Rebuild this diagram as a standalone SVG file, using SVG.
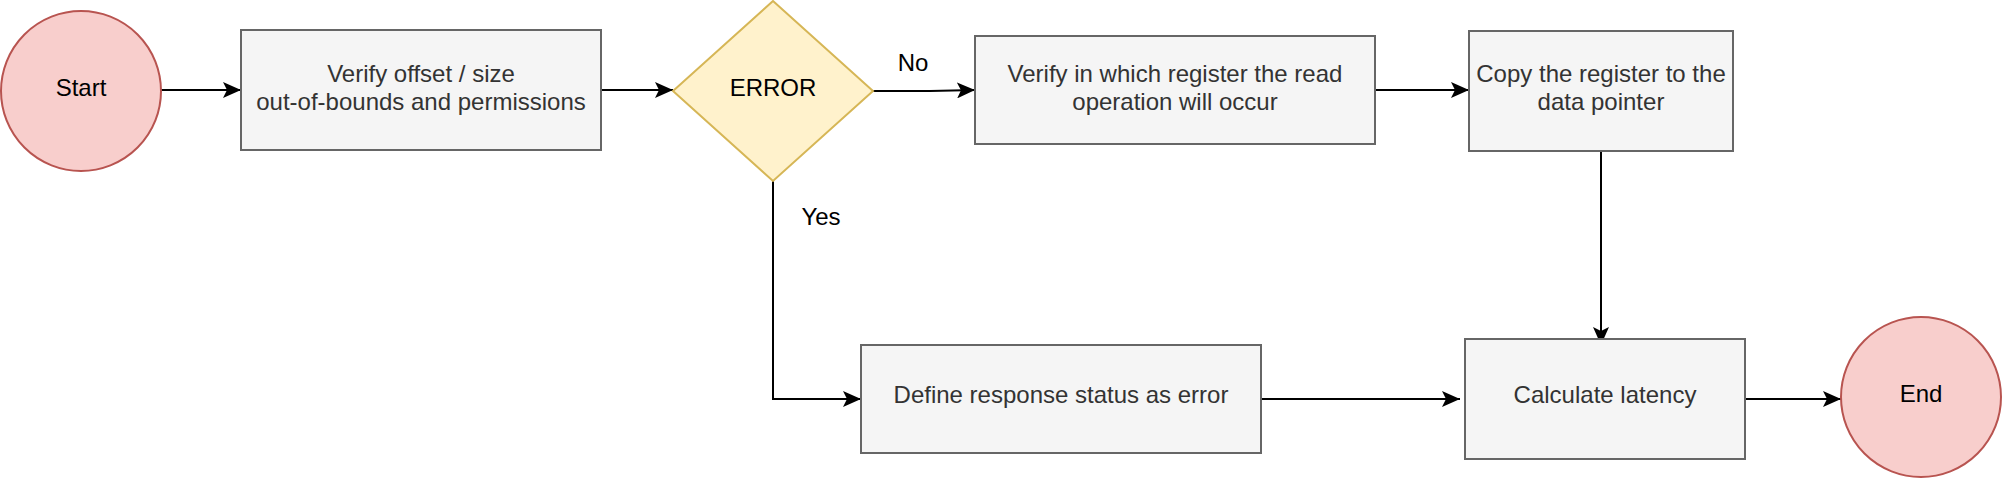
<svg xmlns="http://www.w3.org/2000/svg" width="2004" height="478" viewBox="0 0 2004 478">
<style>
.term{fill:#f8cecc;stroke:#b85450;stroke-width:2}
.proc{fill:#f5f5f5;stroke:#666666;stroke-width:2}
.dec{fill:#fff2cc;stroke:#d6b656;stroke-width:2}
.t{font-family:"Liberation Sans",Arial,Helvetica,sans-serif;font-size:24px;text-anchor:middle}
.dark{fill:#333333}
.blk{fill:#000000}
.conn{fill:none;stroke:#000000;stroke-width:2}
</style>
<defs>
<marker id="arrow" viewBox="0 0 18 16" refX="18" refY="8" markerWidth="18" markerHeight="16" markerUnits="userSpaceOnUse" orient="auto">
<path d="M0,0 L18,8 L0,16 L4,8 Z" fill="#000000"/>
</marker>
</defs>
<g id="connectors">
<path class="conn" d="M161,90 H241" marker-end="url(#arrow)"/>
<path class="conn" d="M601,90 H673" marker-end="url(#arrow)"/>
<path class="conn" d="M873,91 L930,91 L975,90" marker-end="url(#arrow)"/>
<path class="conn" d="M1375,90 H1469" marker-end="url(#arrow)"/>
<path class="conn" d="M1601,151 V345" marker-end="url(#arrow)"/>
<path class="conn" d="M773,181 V399 H861" marker-end="url(#arrow)"/>
<path class="conn" d="M1261,399 H1460" marker-end="url(#arrow)"/>
<path class="conn" d="M1745,399 H1841" marker-end="url(#arrow)"/>
<text class="t blk" x="913" y="71">No</text>
<text class="t blk" x="821" y="225">Yes</text>
</g>
<g id="start">
<circle class="term" cx="81" cy="91" r="80"/>
<text class="t blk" x="81" y="96">Start</text>
</g>
<g id="verify-offset">
<rect class="proc" x="241" y="30" width="360" height="120"/>
<text class="t dark" x="421" y="82">Verify offset / size</text>
<text class="t dark" x="421" y="110">out-of-bounds and permissions</text>
</g>
<g id="error-decision">
<polygon class="dec" points="773,1 873,91 773,181 673,91"/>
<text class="t blk" x="773" y="96">ERROR</text>
</g>
<g id="verify-register">
<rect class="proc" x="975" y="36" width="400" height="108"/>
<text class="t dark" x="1175" y="82">Verify in which register the read</text>
<text class="t dark" x="1175" y="110">operation will occur</text>
</g>
<g id="copy-register">
<rect class="proc" x="1469" y="31" width="264" height="120"/>
<text class="t dark" x="1601" y="82">Copy the register to the</text>
<text class="t dark" x="1601" y="110">data pointer</text>
</g>
<g id="define-error">
<rect class="proc" x="861" y="345" width="400" height="108"/>
<text class="t dark" x="1061" y="403">Define response status as error</text>
</g>
<g id="calc-latency">
<rect class="proc" x="1465" y="339" width="280" height="120"/>
<text class="t dark" x="1605" y="403">Calculate latency</text>
</g>
<g id="end">
<circle class="term" cx="1921" cy="397" r="80"/>
<text class="t blk" x="1921" y="402">End</text>
</g>
</svg>
